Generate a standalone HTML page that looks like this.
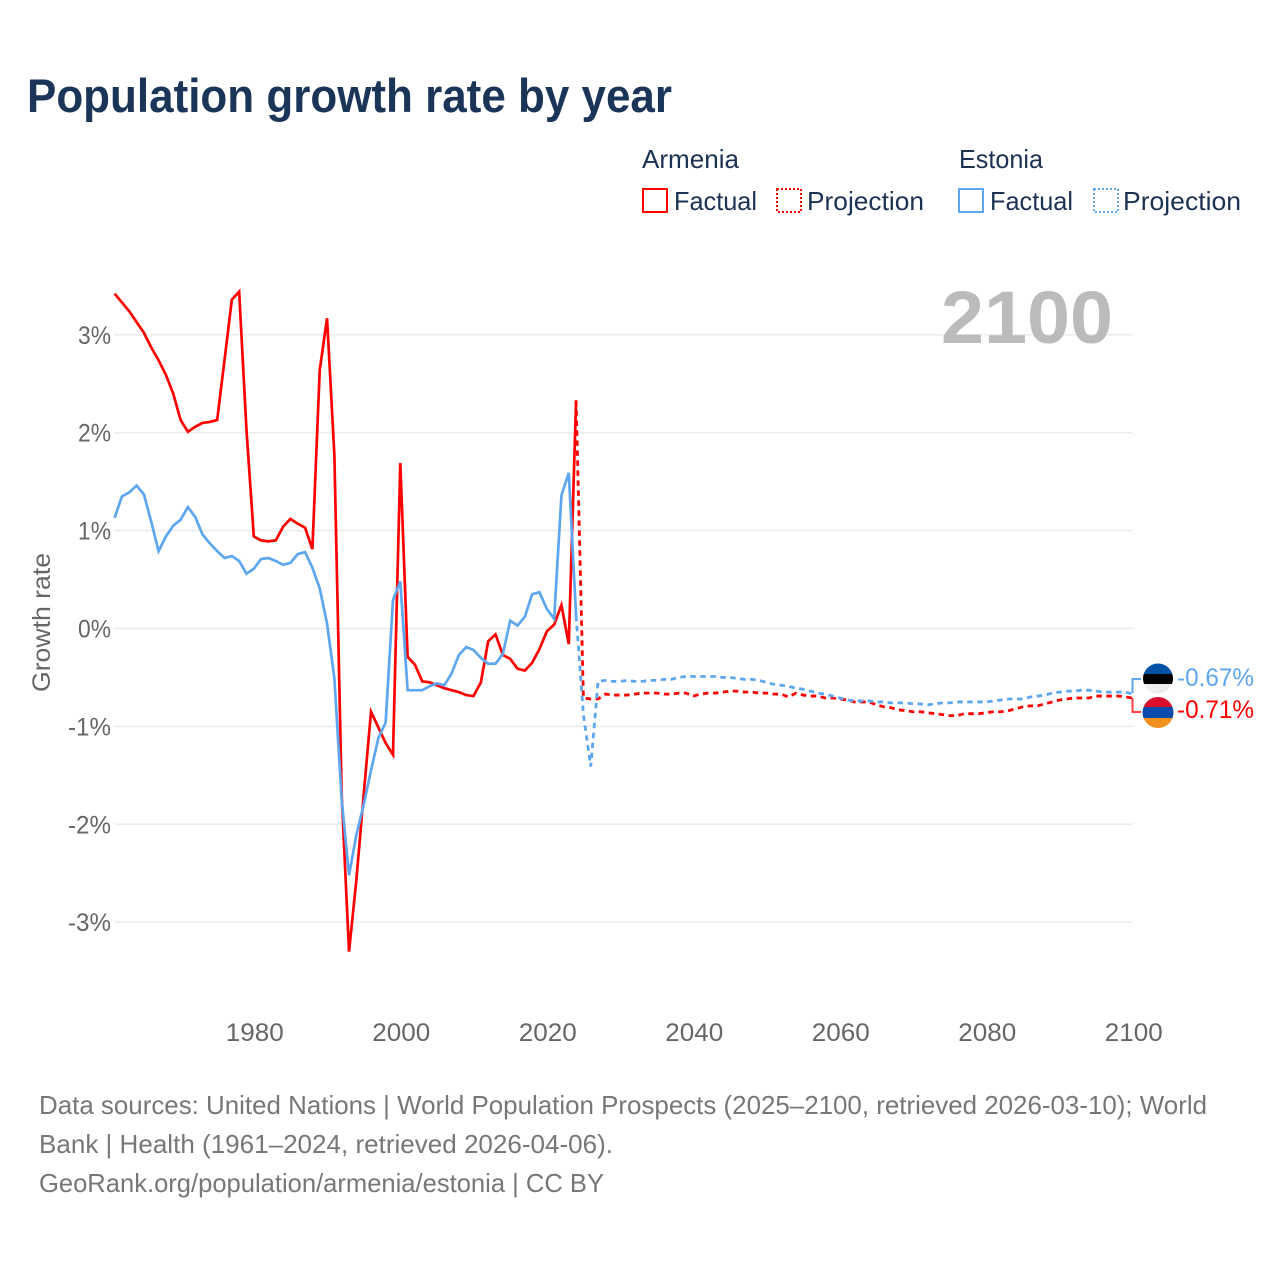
<!DOCTYPE html>
<html lang="en">
<head>
<meta charset="utf-8">
<title>Population growth rate by year</title>
<style>
html,body{margin:0;padding:0;background:#fff;width:1280px;height:1280px;overflow:hidden}
svg{display:block;font-family:"Liberation Sans",sans-serif}
</style>
</head>
<body>
<svg id="chart" xmlns="http://www.w3.org/2000/svg" width="1280" height="1280" viewBox="0 0 1280 1280">
  <defs>
    <clipPath id="clip-ee"><circle cx="1158" cy="678.5" r="15"/></clipPath>
    <clipPath id="clip-am"><circle cx="1158" cy="712.5" r="15.5"/></clipPath>
  </defs>
  <text x="27" y="112" font-size="47" font-weight="700" fill="#1a3557" textLength="645" lengthAdjust="spacingAndGlyphs">Population growth rate by year</text>

  <g font-size="26" fill="#1c3253">
    <text x="642" y="168" textLength="97" lengthAdjust="spacingAndGlyphs">Armenia</text>
    <text x="959" y="168" textLength="84" lengthAdjust="spacingAndGlyphs">Estonia</text>
    <rect x="643" y="189" width="24" height="23" fill="none" stroke="#ff0000" stroke-width="2"/>
    <text x="674" y="210" textLength="83" lengthAdjust="spacingAndGlyphs">Factual</text>
    <rect x="777" y="189" width="24" height="23" fill="none" stroke="#ff0000" stroke-width="2" stroke-dasharray="2 2"/>
    <text x="807" y="210" textLength="117" lengthAdjust="spacingAndGlyphs">Projection</text>
    <rect x="959" y="189" width="24" height="23" fill="none" stroke="#5ea6ee" stroke-width="2"/>
    <text x="990" y="210" textLength="83" lengthAdjust="spacingAndGlyphs">Factual</text>
    <rect x="1094" y="189" width="24" height="23" fill="none" stroke="#5ea6ee" stroke-width="2" stroke-dasharray="2 2"/>
    <text x="1123" y="210" textLength="118" lengthAdjust="spacingAndGlyphs">Projection</text>
  </g>

  <g id="grid"></g>
  <text x="941" y="343" font-size="74" font-weight="700" fill="#bbbbbb" textLength="172" lengthAdjust="spacingAndGlyphs">2100</text>
  <g id="yticks"></g>
  <g id="xticks"></g>
  <text transform="translate(50,692) rotate(-90)" font-size="25" fill="#666666" textLength="139" lengthAdjust="spacingAndGlyphs">Growth rate</text>
  <g id="series"></g>

  <g>
    <path d="M1132.5 693 V679 H1141" fill="none" stroke="#5ea6ee" stroke-width="2"/>
    <path d="M1132.5 698 V712 H1141" fill="none" stroke="#ff0000" stroke-width="2" opacity="0.75"/>
    <g clip-path="url(#clip-ee)">
      <rect x="1143" y="663" width="30" height="11" fill="#0052a8"/>
      <rect x="1143" y="674" width="30" height="10" fill="#000000"/>
      <rect x="1143" y="684" width="30" height="11" fill="#eeeeee"/>
    </g>
    <g clip-path="url(#clip-am)">
      <rect x="1142" y="697" width="32" height="10" fill="#d90f2e"/>
      <rect x="1142" y="707" width="32" height="11" fill="#0a4cae"/>
      <rect x="1142" y="718" width="32" height="11" fill="#f2901d"/>
    </g>
    <text x="1177" y="686" font-size="25" fill="#5ea6ee" textLength="77" lengthAdjust="spacingAndGlyphs">-0.67%</text>
    <text x="1177" y="718" font-size="25" fill="#ff0000" textLength="77" lengthAdjust="spacingAndGlyphs">-0.71%</text>
  </g>

  <g font-size="26" fill="#777777">
    <text x="39" y="1114" textLength="1168" lengthAdjust="spacingAndGlyphs">Data sources: United Nations | World Population Prospects (2025–2100, retrieved 2026-03-10); World</text>
    <text x="39" y="1153" textLength="574" lengthAdjust="spacingAndGlyphs">Bank | Health (1961–2024, retrieved 2026-04-06).</text>
    <text x="39" y="1192" textLength="565" lengthAdjust="spacingAndGlyphs">GeoRank.org/population/armenia/estonia | CC BY</text>
  </g>
</svg>
<script>
const factualStartYear = 1961;
const projectionStartYear = 2025;
const yTickValues = [3, 2, 1, 0, -1, -2, -3];
const yTickLabels = ["3%", "2%", "1%", "0%", "-1%", "-2%", "-3%"];
const xTickYears = [1980, 2000, 2020, 2040, 2060, 2080, 2100];
const armeniaFactual = [
  3.42, 3.33, 3.24, 3.13, 3.02, 2.87, 2.74, 2.59, 2.40, 2.13,
  2.01, 2.06, 2.10, 2.11, 2.13, 2.74, 3.36, 3.44, 2.03, 0.94,
  0.90, 0.89, 0.90, 1.04, 1.12, 1.07, 1.03, 0.81, 2.64, 3.17,
  1.77, -1.70, -3.30, -2.57, -1.70, -0.85, -1.01, -1.17, -1.29, 1.69,
  -0.29, -0.37, -0.54, -0.55, -0.58, -0.61, -0.63, -0.65, -0.68, -0.69,
  -0.55, -0.13, -0.06, -0.27, -0.31, -0.41, -0.43, -0.35, -0.21, -0.03,
  0.04, 0.24, -0.16, 2.33
];
const estoniaFactual = [
  1.13, 1.35, 1.39, 1.46, 1.37, 1.09, 0.79, 0.94, 1.05, 1.11,
  1.24, 1.14, 0.96, 0.87, 0.79, 0.72, 0.74, 0.69, 0.56, 0.61,
  0.71, 0.72, 0.69, 0.65, 0.67, 0.76, 0.78, 0.62, 0.41, 0.05,
  -0.51, -1.75, -2.52, -2.11, -1.80, -1.45, -1.12, -0.96, 0.29, 0.48,
  -0.63, -0.63, -0.63, -0.59, -0.56, -0.58, -0.46, -0.27, -0.19, -0.22,
  -0.30, -0.36, -0.36, -0.26, 0.08, 0.03, 0.12, 0.35, 0.37, 0.20,
  0.10, 1.36, 1.59, 0.13
];
const armeniaProjection = [
  -0.71, -0.72, -0.72, -0.67, -0.68, -0.68, -0.68, -0.67, -0.66, -0.66,
  -0.66, -0.67, -0.67, -0.66, -0.66, -0.69, -0.67, -0.66, -0.66, -0.65,
  -0.64, -0.64, -0.65, -0.65, -0.66, -0.66, -0.67, -0.67, -0.70, -0.66,
  -0.68, -0.69, -0.69, -0.71, -0.71, -0.72, -0.73, -0.75, -0.75, -0.75,
  -0.78, -0.80, -0.81, -0.83, -0.84, -0.85, -0.85, -0.86, -0.87, -0.88,
  -0.89, -0.89, -0.87, -0.87, -0.87, -0.86, -0.85, -0.85, -0.84, -0.82,
  -0.80, -0.79, -0.79, -0.77, -0.75, -0.73, -0.72, -0.71, -0.71, -0.71,
  -0.69, -0.69, -0.69, -0.69, -0.70, -0.71
];
const estoniaProjection = [
  -0.88, -1.41, -0.54, -0.53, -0.54, -0.54, -0.53, -0.54, -0.54, -0.53,
  -0.53, -0.52, -0.52, -0.50, -0.49, -0.49, -0.49, -0.49, -0.49, -0.50,
  -0.50, -0.51, -0.52, -0.52, -0.53, -0.55, -0.57, -0.58, -0.59, -0.61,
  -0.62, -0.64, -0.66, -0.67, -0.69, -0.71, -0.73, -0.74, -0.74, -0.74,
  -0.75, -0.75, -0.76, -0.76, -0.76, -0.77, -0.77, -0.78, -0.77, -0.76,
  -0.76, -0.75, -0.75, -0.75, -0.75, -0.75, -0.74, -0.73, -0.72, -0.72,
  -0.72, -0.70, -0.69, -0.68, -0.66, -0.65, -0.64, -0.64, -0.63, -0.63,
  -0.64, -0.65, -0.65, -0.65, -0.65, -0.67
];

const SVGNS = "http://www.w3.org/2000/svg";
function xScale(year) { return 400.3 + (year - 2000) * 7.325; }
function yScale(value) { return 628.5 - value * 97.9; }
function make(tag, parent) {
  const node = document.createElementNS(SVGNS, tag);
  parent.appendChild(node);
  return node;
}

const gridGroup = document.getElementById("grid");
const yTickGroup = document.getElementById("yticks");
yTickValues.forEach(function (value, i) {
  const line = make("line", gridGroup);
  
  
  line.setAttribute("x1", xScale(factualStartYear));
  line.setAttribute("x2", xScale(2100));
  line.setAttribute("y1", yScale(value));
  line.setAttribute("y2", yScale(value));
  line.setAttribute("stroke", "#ebebeb");
  line.setAttribute("stroke-width", "1.5");
  const label = make("text", yTickGroup);
  
  
  label.setAttribute("x", 111);
  label.setAttribute("y", yScale(value) + 9);
  label.setAttribute("text-anchor", "end");
  label.setAttribute("font-size", "25");
  label.setAttribute("fill", "#666666");
  label.setAttribute("textLength", yTickLabels[i].length > 2 ? 43 : 33);
  label.setAttribute("lengthAdjust", "spacingAndGlyphs");
  label.textContent = yTickLabels[i];
});

const xTickGroup = document.getElementById("xticks");
xTickYears.forEach(function (year) {
  const label = make("text", xTickGroup);
  
  
  label.setAttribute("x", xScale(year) + 1);
  label.setAttribute("y", 1041);
  label.setAttribute("text-anchor", "middle");
  label.setAttribute("font-size", "25");
  label.setAttribute("fill", "#666666");
  label.setAttribute("textLength", 58);
  label.setAttribute("lengthAdjust", "spacingAndGlyphs");
  label.textContent = String(year);
});

function linePath(values, startYear, prefix) {
  let d = prefix;
  values.forEach(function (value, i) {
    d += (d ? " L" : "M") + xScale(startYear + i).toFixed(2) + " " + yScale(value).toFixed(2);
  });
  return d;
}
function lastPoint(values, startYear) {
  const i = values.length - 1;
  return "M" + xScale(startYear + i).toFixed(2) + " " + yScale(values[i]).toFixed(2);
}

const seriesGroup = document.getElementById("series");

const armeniaFactualLine = make("path", seriesGroup);


armeniaFactualLine.setAttribute("d", linePath(armeniaFactual, factualStartYear, ""));
armeniaFactualLine.setAttribute("fill", "none");
armeniaFactualLine.setAttribute("stroke", "#ff0000");
armeniaFactualLine.setAttribute("stroke-width", "2.7");
armeniaFactualLine.setAttribute("stroke-linejoin", "miter");

const estoniaFactualLine = make("path", seriesGroup);


estoniaFactualLine.setAttribute("d", linePath(estoniaFactual, factualStartYear, ""));
estoniaFactualLine.setAttribute("fill", "none");
estoniaFactualLine.setAttribute("stroke", "#5ea6ee");
estoniaFactualLine.setAttribute("stroke-width", "2.7");
estoniaFactualLine.setAttribute("stroke-linejoin", "miter");

const armeniaProjectionLine = make("path", seriesGroup);


armeniaProjectionLine.setAttribute("d", linePath(armeniaProjection, projectionStartYear, lastPoint(armeniaFactual, factualStartYear)));
armeniaProjectionLine.setAttribute("fill", "none");
armeniaProjectionLine.setAttribute("stroke", "#ff0000");
armeniaProjectionLine.setAttribute("stroke-width", "2.8");
armeniaProjectionLine.setAttribute("stroke-dasharray", "5.5 4.5");

const estoniaProjectionLine = make("path", seriesGroup);


estoniaProjectionLine.setAttribute("d", linePath(estoniaProjection, projectionStartYear, lastPoint(estoniaFactual, factualStartYear)));
estoniaProjectionLine.setAttribute("fill", "none");
estoniaProjectionLine.setAttribute("stroke", "#5ea6ee");
estoniaProjectionLine.setAttribute("stroke-width", "2.8");
estoniaProjectionLine.setAttribute("stroke-dasharray", "5.5 4.5");
</script>
</body>
</html>
